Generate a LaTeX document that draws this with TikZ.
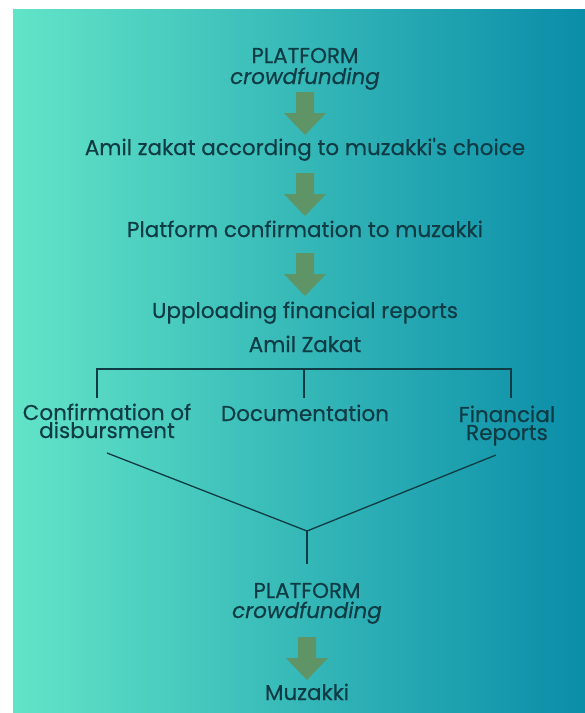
\documentclass[tikz,border=0pt]{standalone}
\usepackage{fontspec}
\setmainfont{Poppins}[FakeBold=0.4]
\definecolor{bgL}{HTML}{62E4C8}
\definecolor{bgR}{HTML}{0A8DA8}
\definecolor{txtc}{HTML}{0F3C44}
\definecolor{arrc}{HTML}{5E9466}
\begin{document}
\begin{tikzpicture}[x=1pt,y=-1pt,
  lbl/.style={text=txtc,font=\fontsize{21.5}{18}\selectfont,inner sep=0pt,anchor=base,align=center},
  conn/.style={draw=txtc,line width=1.3pt},
  bigarrow/.style={fill=arrc}]
\useasboundingbox (0,0) rectangle (585,713);
\shade[left color=bgL,right color=bgR] (13,9) rectangle (585,713);
% texts
\node[lbl] (p1) at (305,63) {PLATFORM};
\node[lbl] (c1) at (305,84) {\itshape crowdfunding};
\node[lbl] (s1) at (305,155) {Amil zakat according to muzakki\textquotesingle s choice};
\node[lbl] (s2) at (305,237) {Platform confirmation to muzakki};
\node[lbl] (s3) at (305,318) {Upploading financial reports};
\node[lbl] (az) at (305,352) {Amil Zakat};
\node[lbl] (conf) at (107,438) {Confirmation of\\disbursment};
\node[lbl] (doc) at (305,421) {Documentation};
\node[lbl] (fin) at (507,440) {Financial\\Reports};
\node[lbl] (p2) at (307,598) {PLATFORM};
\node[lbl] (c2) at (307,618) {\itshape crowdfunding};
\node[lbl] (mz) at (307,700) {Muzakki};
% block arrows
\foreach \cx/\ty in {305/92,305/173,305/253,307/637}{
  \fill[bigarrow] (\cx-9,\ty) -- (\cx+9,\ty) -- (\cx+9,\ty+21) -- (\cx+21,\ty+21)
    -- (\cx,\ty+43) -- (\cx-21,\ty+21) -- (\cx-9,\ty+21) -- cycle;
}
% tree
\coordinate (tl) at (97,398);
\coordinate (tm) at (304,398);
\coordinate (tr) at (511,398);
\coordinate (bar) at (304,369);
\draw[conn] (tl) -- (97,369) -- (511,369) -- (tr);
\draw[conn] (bar) -- (tm);
\coordinate (vl) at (107,453);
\coordinate (vr) at (496,455);
\coordinate (vx) at (307,531);
\coordinate (vb) at (307,564);
\draw[conn] (vl) -- (vx) -- (vr);
\draw[conn] (vx) -- (vb);
\end{tikzpicture}
\end{document}
